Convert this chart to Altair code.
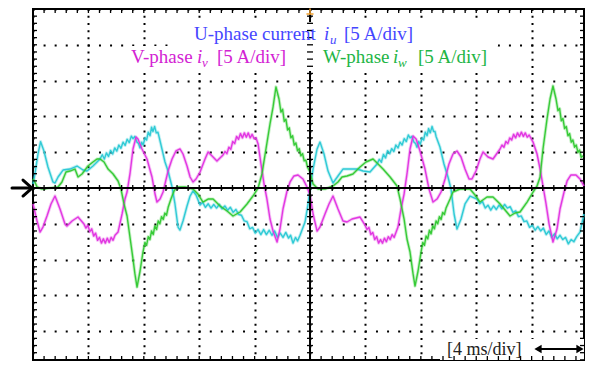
import altair as alt
import pandas as pd

# ---- data: (time in ms, current in A) ----
u_points = [
    (0.00, 0.56), (0.14, 1.96), (0.36, 4.75), (0.55, 6.47), (0.79, 5.17), (1.08, 2.93), (1.44, 0.84),
    (1.59, 0.70), (1.81, 1.54), (2.17, 2.51), (2.67, 2.65), (3.18, 3.07), (3.61, 2.51), (3.90, 2.37),
    (4.33, 3.07), (4.84, 4.05), (5.00, 4.65), (5.15, 4.05), (5.30, 4.90), (5.45, 4.40), (5.60, 5.25),
    (5.75, 4.75), (5.90, 5.60), (6.05, 5.15), (6.20, 6.00), (6.35, 5.55), (6.50, 6.40), (6.65, 5.95),
    (6.80, 6.80), (6.95, 6.35), (7.10, 7.25), (7.22, 6.90), (7.35, 7.20), (7.51, 6.40), (7.62, 6.20),
    (7.73, 5.60), (7.85, 6.40), (7.95, 6.00), (8.09, 7.00), (8.20, 6.70), (8.32, 7.80), (8.45, 7.30),
    (8.56, 8.50), (8.66, 7.90), (8.78, 8.60), (8.90, 7.70), (9.02, 7.80), (9.17, 6.60), (9.53, 3.63),
    (9.75, 2.37), (10.04, 0.14), (10.25, -2.23), (10.47, -5.45), (10.61, -5.87), (10.83, -4.61),
    (11.12, -2.51), (11.34, -1.12), (11.55, -0.42), (11.77, -0.98), (12.06, -2.37), (12.25, -2.0),
    (12.45, -2.7), (12.65, -2.2), (12.85, -2.8), (13.05, -2.3), (13.25, -2.8), (13.45, -2.3),
    (13.65, -2.9), (13.85, -2.5), (14.05, -3.1), (14.25, -2.7), (14.45, -3.4), (14.65, -3.0),
    (14.85, -3.7), (15.05, -3.8), (15.25, -4.6), (15.45, -4.7), (15.65, -5.7), (15.85, -5.5),
    (16.05, -6.3), (16.25, -5.8), (16.45, -6.5), (16.65, -5.8), (16.85, -6.5), (17.05, -5.9),
    (17.25, -6.6), (17.45, -6.0), (17.65, -6.9), (17.85, -6.3), (18.05, -6.9), (18.25, -6.2),
    (18.45, -7.0), (18.60, -6.6), (18.77, -7.7), (18.95, -6.9), (19.10, -7.4), (19.28, -6.6),
    (19.64, -4.75), (19.86, -2.23), (20.00, -0.14), (20.22, 2.65), (20.51, 5.45), (20.72, 6.42),
    (21.01, 4.75), (21.30, 2.37), (21.66, 0.70), (22.02, 1.68), (22.38, 2.65), (22.89, 2.65),
    (23.39, 2.65), (23.83, 2.37), (24.33, 2.23), (24.84, 3.35), (25.00, 4.0), (25.15, 3.6),
    (25.30, 4.7), (25.45, 4.2), (25.60, 5.2), (25.75, 4.8), (25.90, 5.5), (26.05, 5.1), (26.20, 6.0),
    (26.35, 5.6), (26.50, 6.4), (26.65, 6.0), (26.80, 6.9), (26.95, 6.5), (27.10, 7.4), (27.22, 7.0),
    (27.35, 7.2), (27.51, 6.4), (27.62, 6.2), (27.72, 5.7), (27.85, 6.5), (27.96, 6.1), (28.09, 7.0),
    (28.20, 6.7), (28.32, 7.8), (28.45, 7.3), (28.56, 8.3), (28.68, 7.7), (28.81, 8.6), (28.92, 7.9),
    (29.02, 7.9), (29.10, 7.2), (29.38, 5.73), (29.67, 3.35), (29.96, 1.54), (30.18, -0.14),
    (30.40, -3.63), (30.61, -5.73), (30.90, -4.33), (31.19, -2.23), (31.55, -1.12), (32.06, -1.54),
    (32.25, -2.2), (32.45, -1.9), (32.65, -2.8), (32.85, -2.4), (33.05, -3.1), (33.25, -2.5),
    (33.45, -3.0), (33.65, -2.4), (33.85, -2.9), (34.05, -2.3), (34.25, -2.8), (34.45, -2.6),
    (34.65, -3.4), (34.85, -3.2), (35.05, -4.0), (35.25, -3.9), (35.45, -4.7), (35.65, -4.6),
    (35.85, -5.5), (36.05, -5.2), (36.25, -5.9), (36.45, -5.4), (36.65, -6.0), (36.85, -5.6),
    (37.05, -6.5), (37.25, -6.0), (37.45, -6.9), (37.65, -6.4), (37.85, -7.1), (38.05, -6.6),
    (38.25, -7.2), (38.45, -6.9), (38.65, -7.8), (38.85, -7.2), (39.05, -7.5), (39.25, -6.8),
    (39.49, -6.15), (39.78, -3.63), (40.00, -1.54),
]

v_points = [
    (0.00, -2.23), (0.29, -4.61), (0.51, -6.15), (0.72, -5.45), (1.01, -3.91), (1.30, -2.23),
    (1.59, -1.12), (1.95, -2.93), (2.31, -5.03), (2.45, -5.31), (2.82, -4.61), (3.25, -4.05),
    (3.68, -5.03), (3.82, -5.6), (3.96, -5.2), (4.10, -6.1), (4.24, -5.7), (4.38, -6.7), (4.52, -6.3),
    (4.66, -7.3), (4.80, -6.9), (4.94, -7.7), (5.08, -7.1), (5.22, -7.7), (5.36, -7.0), (5.50, -7.6),
    (5.64, -6.9), (5.78, -7.3), (5.92, -6.6), (6.14, -6.15), (6.43, -3.63), (6.64, -1.54),
    (6.79, -0.56), (7.00, 1.96), (7.22, 5.45), (7.44, 7.12), (7.58, 6.84), (7.87, 5.45), (8.23, 4.05),
    (8.59, 1.54), (8.81, -0.84), (8.95, -1.96), (9.17, -1.54), (9.39, -0.56), (9.75, 2.37),
    (10.04, 4.05), (10.32, 5.17), (10.61, 5.45), (10.83, 4.75), (11.12, 3.07), (11.34, 1.54),
    (11.55, 0.84), (11.77, 1.26), (12.06, 2.23), (12.42, 4.05), (12.64, 5.03), (13.00, 4.33),
    (13.28, 3.77), (13.72, 4.61), (13.86, 5.1), (14.00, 4.8), (14.14, 5.7), (14.28, 5.4), (14.42, 6.5),
    (14.56, 6.2), (14.70, 7.2), (14.84, 6.8), (14.98, 7.6), (15.12, 7.0), (15.26, 7.7), (15.40, 7.1),
    (15.54, 7.7), (15.68, 7.0), (15.82, 7.5), (15.96, 6.9), (16.10, 7.0), (16.25, 6.15), (16.46, 3.35),
    (16.68, 0.56), (16.89, -1.54), (17.11, -4.33), (17.33, -6.01), (17.62, -7.54), (17.83, -5.73),
    (18.05, -2.93), (18.34, -0.42), (18.56, 0.84), (18.84, 1.68), (19.13, 1.82), (19.49, 1.26),
    (19.78, 0.14), (20.00, -0.98), (20.22, -3.63), (20.51, -6.01), (20.72, -5.45), (21.08, -3.63),
    (21.37, -2.23), (21.66, -1.12), (22.02, -2.93), (22.38, -4.61), (22.67, -4.75), (23.03, -4.33),
    (23.61, -4.05), (23.97, -5.17), (24.11, -5.8), (24.25, -5.5), (24.39, -6.5), (24.53, -6.2),
    (24.67, -7.2), (24.81, -6.8), (24.95, -7.7), (25.09, -7.2), (25.23, -7.7), (25.37, -7.0),
    (25.51, -7.5), (25.65, -6.8), (25.79, -7.2), (25.93, -6.5), (26.07, -6.9), (26.35, -5.45),
    (26.57, -2.93), (26.79, -0.84), (27.00, 1.96), (27.22, 5.45), (27.44, 7.26), (27.66, 6.84),
    (27.94, 5.17), (28.30, 2.65), (28.59, -0.14), (28.88, -1.96), (29.17, -1.54), (29.46, -0.56),
    (29.75, 1.26), (30.03, 3.35), (30.32, 4.75), (30.61, 5.17), (30.90, 4.33), (31.19, 2.65),
    (31.48, 1.26), (31.69, 1.26), (31.98, 2.37), (32.27, 4.05), (32.49, 5.03), (32.85, 4.33),
    (33.21, 4.05), (33.72, 5.45), (33.86, 6.0), (34.00, 5.7), (34.14, 6.5), (34.28, 6.2), (34.42, 7.0),
    (34.56, 6.7), (34.70, 7.5), (34.84, 7.0), (34.98, 7.7), (35.12, 7.2), (35.26, 7.8), (35.40, 7.2),
    (35.54, 7.7), (35.68, 7.1), (35.82, 7.4), (36.10, 6.42), (36.39, 4.75), (36.61, 2.65),
    (36.82, 0.28), (37.04, -2.23), (37.26, -5.03), (37.54, -7.54), (37.83, -5.73), (38.05, -2.93),
    (38.34, -0.56), (38.56, 0.98), (38.84, 1.82), (39.20, 1.82), (39.49, 1.26), (39.78, 0.28),
    (40.00, -0.84),
]

w_points = [
    (0.00, 1.26), (0.14, 0.84), (0.29, 0.14), (0.65, -0.14), (1.23, 0.00), (1.81, 0.14), (2.09, 0.84),
    (2.38, 2.23), (2.67, 2.37), (3.03, 2.65), (3.25, 1.54), (3.54, 1.96), (3.97, 3.07), (4.33, 3.63),
    (4.62, 4.05), (4.84, 4.05), (5.13, 3.63), (5.42, 2.65), (5.78, 1.96), (6.14, 0.98), (6.35, -0.14),
    (6.57, -2.23), (6.79, -3.91), (7.00, -6.84), (7.22, -9.92), (7.36, -12.01), (7.51, -13.83),
    (7.73, -11.59), (7.94, -8.94), (8.08, -7.6), (8.20, -8.0), (8.32, -6.8), (8.44, -7.2), (8.56, -6.0),
    (8.68, -6.5), (8.80, -5.3), (8.92, -5.8), (9.04, -4.6), (9.16, -5.0), (9.28, -4.0), (9.40, -4.4),
    (9.52, -3.5), (9.64, -3.8), (9.76, -2.7), (9.96, -1.54), (10.18, -0.42), (10.40, 0.14),
    (10.97, 0.14), (11.55, -0.14), (11.91, -0.84), (12.27, -1.96), (12.64, -1.54), (13.00, -1.54),
    (13.50, -2.51), (14.01, -3.21), (14.44, -3.91), (14.95, -3.35), (15.45, -2.23), (15.88, -1.12),
    (16.25, 0.00), (16.53, 1.96), (16.82, 5.45), (17.11, 8.94), (17.33, 11.31), (17.54, 14.11),
    (17.76, 12.43), (17.90, 10.6), (18.02, 11.0), (18.14, 9.3), (18.26, 9.6), (18.38, 8.1),
    (18.50, 8.4), (18.62, 7.0), (18.74, 7.3), (18.86, 6.0), (18.98, 6.3), (19.10, 5.2), (19.22, 5.5),
    (19.34, 4.5), (19.46, 4.8), (19.58, 3.8), (19.70, 3.9), (19.82, 2.9), (20.00, 2.23),
    (20.22, 0.56), (20.58, -0.14), (21.08, -0.14), (21.66, 0.28), (22.02, 0.84), (22.31, 1.54),
    (22.67, 1.68), (23.10, 1.96), (23.61, 2.93), (24.04, 3.63), (24.55, 4.05), (24.91, 3.35),
    (25.27, 2.65), (25.78, 1.54), (26.28, 0.28), (26.50, -1.54), (26.79, -4.33), (27.00, -7.12),
    (27.22, -8.94), (27.44, -12.01), (27.58, -13.69), (27.80, -11.59), (28.02, -8.9), (28.14, -7.6),
    (28.26, -8.0), (28.38, -6.7), (28.50, -7.1), (28.62, -5.9), (28.74, -6.4), (28.86, -5.3),
    (28.98, -5.7), (29.10, -4.6), (29.22, -5.0), (29.34, -4.0), (29.46, -4.4), (29.58, -3.4),
    (29.70, -3.7), (29.82, -2.8), (30.11, -1.54), (30.32, -0.56), (30.83, -0.14), (31.55, -0.14),
    (31.91, -0.98), (32.27, -1.96), (32.78, -1.26), (33.21, -1.26), (33.72, -2.23), (34.44, -3.91),
    (34.80, -3.49), (35.16, -3.35), (35.67, -1.96), (36.10, -0.56), (36.39, 0.28), (36.61, 1.54),
    (36.82, 5.45), (37.11, 9.64), (37.33, 12.43), (37.54, 14.25), (37.76, 12.43), (37.90, 10.8),
    (38.02, 11.1), (38.14, 9.4), (38.26, 9.7), (38.38, 8.3), (38.50, 8.6), (38.62, 7.3), (38.74, 7.6),
    (38.86, 6.4), (38.98, 6.7), (39.10, 5.7), (39.22, 6.0), (39.34, 5.0), (39.46, 5.3), (39.58, 4.3),
    (39.70, 4.5), (39.82, 3.4), (40.00, 2.37),
]

phases = ["U", "V", "W"]
trace_colors = ["#28c8d4", "#e02fe0", "#2fc82f"]

# scope graticule: 4 ms/div and 5 A/div
T_MAX, I_MIN, I_MAX = 39.78, -24.02, 25
major_t = [0, 4, 8, 12, 16, 20, 24, 28, 32, 36]
major_i = [-20, -15, -10, -5, 0, 5, 10, 15, 20, 25]
minor_t = [round(0.8 * k, 2) for k in range(50)]
minor_i = [k - 24 for k in range(50)]

df = pd.concat([
    pd.DataFrame(u_points, columns=["t", "i"]).assign(phase="U"),
    pd.DataFrame(v_points, columns=["t", "i"]).assign(phase="V"),
    pd.DataFrame(w_points, columns=["t", "i"]).assign(phase="W"),
])
df = df[df["t"] <= T_MAX]

W, H = 551, 351
xs = alt.Scale(domain=[0, T_MAX], nice=False, zero=False)
ys = alt.Scale(domain=[I_MIN, I_MAX], nice=False, zero=False)
ax_x = alt.Axis(values=major_t, orient="top", grid=True, gridDash=[2, 5.16], gridDashOffset=1,
                gridColor="black", gridWidth=2, gridOpacity=1, labels=False, ticks=False, domain=False,
                title=None)
ax_y = alt.Axis(values=major_i, orient="left", grid=True, gridDash=[2, 9.08], gridDashOffset=1,
                gridColor="black", gridWidth=2, gridOpacity=1, labels=False, ticks=False, domain=False,
                title=None)
X = lambda: alt.X("t:Q", scale=xs, axis=ax_x)
Y = lambda: alt.Y("i:Q", scale=ys, axis=ax_y)
Y0 = 25 * H / (I_MAX - I_MIN)       # pixel row of the zero level
X0 = 20 * W / T_MAX                 # pixel column of the centre line
color_enc = alt.Color("phase:N", scale=alt.Scale(domain=phases, range=trace_colors), legend=None)

# fuzzy scope traces: a soft halo under a thinner core line
halo = alt.Chart(df).mark_line(strokeWidth=3.2, opacity=0.28, strokeJoin="round").encode(
    x=X(), y=Y(), color=color_enc, detail="phase:N")
traces = alt.Chart(df).mark_line(strokeWidth=1.4, opacity=0.95, strokeJoin="round").encode(
    x=X(), y=Y(), color=color_enc, detail="phase:N")

dft = pd.DataFrame({"t": minor_t})
dfi = pd.DataFrame({"i": minor_i})
TW = 1.3
tick_top = alt.Chart(dft).mark_rule(color="black", strokeWidth=TW).encode(x=X(), y=alt.value(0), y2=alt.value(4))
tick_bot = alt.Chart(dft).mark_rule(color="black", strokeWidth=TW).encode(x=X(), y=alt.value(H), y2=alt.value(H - 4))
tick_left = alt.Chart(dfi).mark_rule(color="black", strokeWidth=TW).encode(y=Y(), x=alt.value(0), x2=alt.value(4))
tick_right = alt.Chart(dfi).mark_rule(color="black", strokeWidth=TW).encode(y=Y(), x=alt.value(W), x2=alt.value(W - 4))
tick_cx = alt.Chart(dft).mark_rule(color="black", strokeWidth=TW).encode(x=X(), y=alt.value(Y0 - 3), y2=alt.value(Y0 + 3))
tick_cy = alt.Chart(dfi).mark_rule(color="black", strokeWidth=TW).encode(y=Y(), x=alt.value(X0 - 3), x2=alt.value(X0 + 3))
center_v = alt.Chart(pd.DataFrame({"t": [20]})).mark_rule(color="black", strokeWidth=2).encode(x=X())
center_h = alt.Chart(pd.DataFrame({"i": [0]})).mark_rule(color="black", strokeWidth=2).encode(y=Y())

one = pd.DataFrame({"a": [0]})
SERIF = "Liberation Serif"
FS = 19


def txt(s, x, y, color, size=FS, style="normal"):
    return alt.Chart(one).mark_text(text=s, font=SERIF, fontSize=size, fontStyle=style, color=color,
                                    align="left", baseline="alphabetic").encode(x=alt.value(x), y=alt.value(y))


def box(x1, y1, x2, y2):
    return alt.Chart(one).mark_rect(color="white", opacity=1).encode(
        x=alt.value(x1), y=alt.value(y1), x2=alt.value(x2), y2=alt.value(y2))


BLUE, MAG, GRN = "#4646ff", "#d323d3", "#22b545"
label_boxes = [box(137, 13, 465, 37), box(92, 37, 461, 62), box(407, 330, 551, 351)]
labels = [
    txt("U-phase current", 161, 31, BLUE), txt("i", 291, 31, BLUE, style="italic"),
    txt("u", 297, 35, BLUE, size=13, style="italic"), txt("[5 A/div]", 311, 31, BLUE),
    txt("V-phase", 98, 54, MAG), txt("i", 164, 54, MAG, style="italic"),
    txt("v", 169, 58, MAG, size=13, style="italic"), txt("[5 A/div]", 184, 54, MAG),
    txt("W-phase", 290, 54, GRN), txt("i", 360, 54, GRN, style="italic"),
    txt("w", 365, 58, GRN, size=13, style="italic"), txt("[5 A/div]", 385, 54, GRN),
    txt("[4 ms/div]", 414, 346, "#222222", size=18),
]


def seg(x1, y1, x2, y2, color="black", w=2):
    return alt.Chart(one).mark_rule(color=color, strokeWidth=w, strokeCap="round").encode(
        x=alt.value(x1), y=alt.value(y1), x2=alt.value(x2), y2=alt.value(y2))


deco = [
    # zero-level marker arrow on the left
    seg(-21, Y0, -1, Y0, w=3), seg(-10, Y0 - 8, -1, Y0, w=3), seg(-10, Y0 + 8, -1, Y0, w=3),
    # time/div double arrow
    seg(506, 340, 546, 340, w=2),
    alt.Chart(one).mark_point(shape="triangle-left", filled=True, color="black", size=70, opacity=1).encode(
        x=alt.value(505), y=alt.value(340)),
    alt.Chart(one).mark_point(shape="triangle-right", filled=True, color="black", size=70, opacity=1).encode(
        x=alt.value(547), y=alt.value(340)),
    # trigger marker
    seg(X0 - 3, 5, X0 + 3, 5, color="#f0a030", w=1.5), seg(X0, 0, X0, 5, color="#f0a030", w=1.5),
]

chart = alt.layer(
    halo, traces, center_v, center_h, *label_boxes,
    tick_top, tick_bot, tick_left, tick_right, tick_cx, tick_cy,
    *labels, *deco
).properties(
    width=W, height=H, autosize="none",
    padding={"left": 25, "top": 1, "right": 1, "bottom": 1},
    background="white",
).configure_view(stroke="black", strokeWidth=2)

chart.save("out.html", embed_options={"renderer": "svg", "actions": False})
